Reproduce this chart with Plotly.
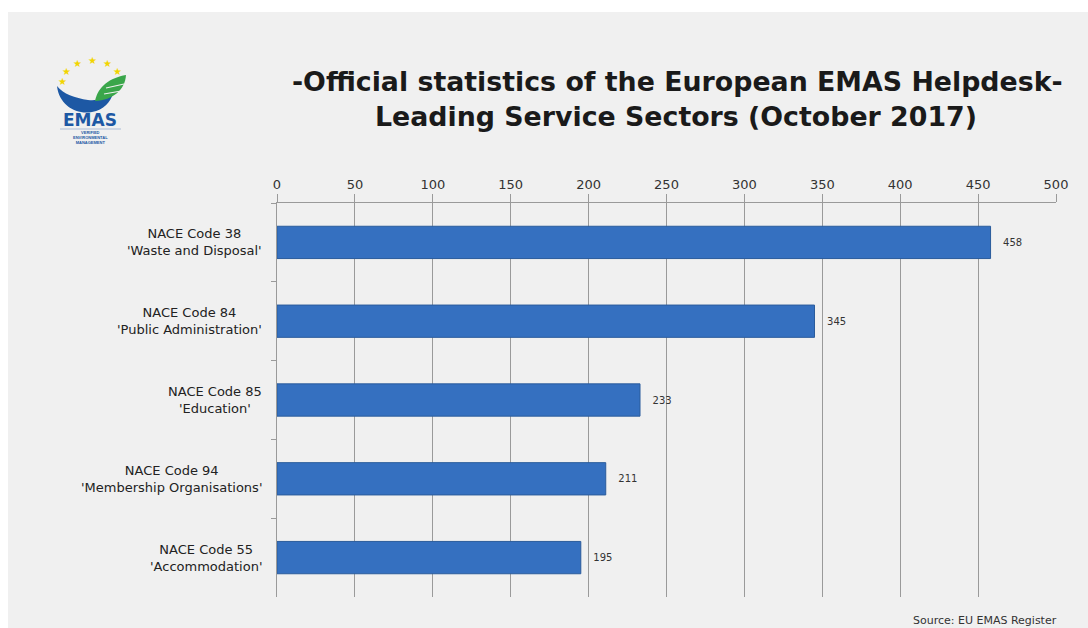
import plotly.graph_objects as go

# ---- data ----
categories = [
    "NACE Code 38<br>'Waste and Disposal'",
    "NACE Code 84<br>'Public Administration'",
    "NACE Code 85<br>'Education'",
    "NACE Code 94<br>'Membership Organisations'",
    "NACE Code 55<br>'Accommodation'",
]
values = [458, 345, 233, 211, 195]
x_ticks = [0, 50, 100, 150, 200, 250, 300, 350, 400, 450, 500]

title_line1 = "-Official statistics of the European EMAS Helpdesk-"
title_line2 = "Leading Service Sectors (October 2017)"
source_text = "Source: EU EMAS Register"

W, H = 1088, 628
L, R, T, B = 277, 1056, 203, 597  # plot area in pixels
FONT = "DejaVu Sans, Verdana, sans-serif"


def px(x):
    return (x - L) / (R - L)


def py(y):
    return (B - y) / (B - T)


def path(points_cmds):
    out = []
    for item in points_cmds:
        if isinstance(item, str):
            out.append(item)
        else:
            out.append(f"{px(item[0]):.5f},{py(item[1]):.5f}")
    return " ".join(out)


fig = go.Figure()
fig.add_trace(go.Bar(
    y=categories,
    x=values,
    orientation="h",
    width=0.41,
    marker=dict(color="#3570c0", line=dict(color="#2b5c9c", width=1)),
    text=values,
    texttemplate="   %{x}",
    textposition="outside",
    textfont=dict(family=FONT, size=10, color="#333333"),
    cliponaxis=False,
    hoverinfo="skip",
))

shapes = []
# grey panel background
shapes.append(dict(type="rect", xref="paper", yref="paper",
                   x0=px(8), x1=px(W + 5), y0=py(H + 5), y1=py(12),
                   fillcolor="#f0f0f0", line=dict(width=0), layer="below"))

# ---- EMAS logo ----
blue_swoosh = path(["M", (57, 86), "C", (59, 105), (76, 115), (92, 112),
                    "C", (104, 110), (110, 102), (113, 94),
                    "C", (105, 99), (96, 101), (88, 100),
                    "C", (75, 98), (63, 94), (57, 86), "Z"])
shapes.append(dict(type="path", xref="paper", yref="paper", path=blue_swoosh,
                   fillcolor="#1d58a4", line=dict(width=0)))
green_leaf = path(["M", (95, 101), "C", (98, 86), (110, 78), (126, 75),
                   "C", (125, 90), (113, 100), (95, 101), "Z"])
shapes.append(dict(type="path", xref="paper", yref="paper", path=green_leaf,
                   fillcolor="#3aa64a", line=dict(width=0)))
for (x0, y0, x1, y1) in [(106, 88, 124, 84), (104, 94, 121, 91)]:
    shapes.append(dict(type="line", xref="paper", yref="paper",
                       x0=px(x0), y0=py(y0), x1=px(x1), y1=py(y1),
                       line=dict(color="#f0f0f0", width=1.2)))
shapes.append(dict(type="line", xref="paper", yref="paper",
                   x0=px(60), y0=py(129), x1=px(121), y1=py(129),
                   line=dict(color="#7f9cc8", width=0.6)))

annotations = []
stars = [(62, 82), (66, 71), (77, 63), (92, 60), (107, 63), (117, 71)]
for sx, sy in stars:
    annotations.append(dict(x=px(sx), y=py(sy), xref="paper", yref="paper",
                            text="★", showarrow=False,
                            font=dict(size=10, color="#f2d500", family="DejaVu Sans"),
                            xanchor="center", yanchor="middle"))
annotations.append(dict(x=px(90), y=py(120), xref="paper", yref="paper",
                        text="<b>EMAS</b>", showarrow=False,
                        font=dict(size=17, color="#1d58a4", family="DejaVu Sans"),
                        xanchor="center", yanchor="middle"))
annotations.append(dict(x=px(90), y=py(137), xref="paper", yref="paper",
                        text="<b>VERIFIED<br>ENVIRONMENTAL<br>MANAGEMENT</b>", showarrow=False,
                        font=dict(size=4, color="#1d58a4", family="Liberation Sans, Arial"),
                        xanchor="center", yanchor="middle"))

# ---- title ----
annotations.append(dict(x=px(677), y=py(82), xref="paper", yref="paper",
                        text="<b>" + title_line1 + "</b>", showarrow=False,
                        font=dict(size=26.8, color="#1a1a1a", family=FONT),
                        xanchor="center", yanchor="middle"))
annotations.append(dict(x=px(676), y=py(117), xref="paper", yref="paper",
                        text="<b>" + title_line2 + "</b>", showarrow=False,
                        font=dict(size=26.8, color="#1a1a1a", family=FONT),
                        xanchor="center", yanchor="middle"))

# ---- category labels (centered two-line) ----
for cat in categories:
    annotations.append(dict(x=px(264), y=cat, xref="paper", yref="y",
                            text=cat, showarrow=False, align="center",
                            font=dict(size=13, color="#222222", family=FONT),
                            xanchor="right", yanchor="middle"))

# ---- source ----
annotations.append(dict(x=px(1059), y=py(620), xref="paper", yref="paper",
                        text=source_text, showarrow=False,
                        font=dict(size=11, color="#333333", family=FONT),
                        xanchor="right", yanchor="middle"))

fig.update_layout(
    width=W, height=H,
    margin=dict(l=L, r=W - R, t=T, b=H - B, pad=0),
    paper_bgcolor="white",
    plot_bgcolor="rgba(0,0,0,0)",
    showlegend=False,
    shapes=shapes,
    annotations=annotations,
    xaxis=dict(
        side="top", range=[0, 500], tickvals=x_ticks,
        showgrid=True, gridcolor="#9a9a9a", gridwidth=1,
        showline=True, linecolor="#9a9a9a", linewidth=1,
        ticks="outside", ticklen=8, tickcolor="#9a9a9a",
        tickfont=dict(family=FONT, size=13, color="#333333"),
        zeroline=False, fixedrange=True,
    ),
    yaxis=dict(
        autorange="reversed", showticklabels=False,
        showline=True, linecolor="#9a9a9a", linewidth=1,
        ticks="outside", ticklen=5, tickcolor="#9a9a9a", tickson="boundaries",
        showgrid=False, fixedrange=True,
    ),
)

fig.write_html("out.html")
